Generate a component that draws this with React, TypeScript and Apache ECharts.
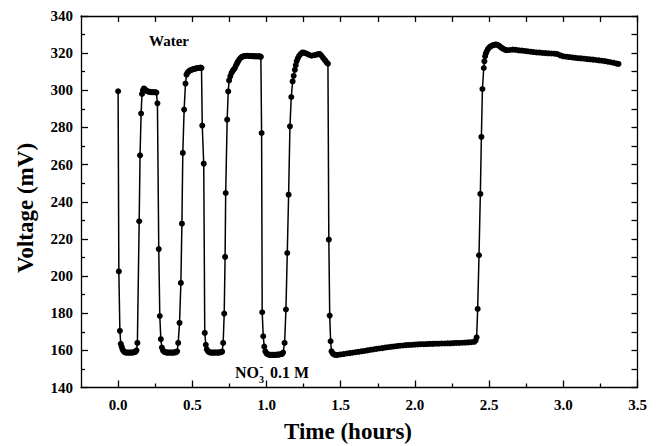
import { useEffect, useRef } from "react";
import * as echarts from "echarts";

const FONT = '"Liberation Serif", "Times New Roman", serif';

// Tick values
const xMajorTicks = [0, 0.5, 1, 1.5, 2, 2.5, 3, 3.5];
const xMinorTicks = [0.25, 0.75, 1.25, 1.75, 2.25, 2.75, 3.25];
const yTickLabels = [140, 160, 180, 200, 220, 240, 260, 280, 300, 320, 340];

// Data: [time (hours), voltage (mV)]
const cycle1 = [
  [0.0, 299.5], [0.005, 202.5], [0.012, 170.5], [0.018, 163.5], [0.024, 162.0], [0.03, 160.5],
  [0.037, 159.5], [0.045, 159.0], [0.053, 158.8], [0.061, 158.8], [0.069, 158.8], [0.077, 158.8],
  [0.085, 158.8], [0.093, 158.8], [0.101, 158.9], [0.109, 159.0], [0.117, 159.2], [0.124, 160.0],
  [0.13, 164.0], [0.142, 229.5], [0.148, 265.0], [0.155, 287.5], [0.161, 298.0], [0.167, 300.0],
  [0.174, 301.0], [0.181, 300.5], [0.188, 299.8], [0.196, 299.5], [0.205, 299.3], [0.214, 299.2],
  [0.223, 299.0], [0.232, 299.0], [0.241, 299.0], [0.25, 299.0], [0.258, 298.8], [0.265, 293.0],
  [0.274, 214.5], [0.281, 178.5], [0.288, 166.0], [0.295, 161.5], [0.303, 159.8], [0.311, 159.2],
  [0.319, 159.0], [0.327, 158.8], [0.335, 158.8], [0.343, 158.8], [0.351, 158.8], [0.359, 158.8],
  [0.367, 158.8], [0.375, 158.8], [0.383, 158.9], [0.391, 159.0], [0.398, 159.5],
];
const cycle2 = [
  [0.405, 164.0], [0.414, 174.8], [0.423, 196.3], [0.43, 228.2], [0.436, 266.3], [0.445, 289.6],
  [0.454, 303.6], [0.461, 308.4], [0.468, 309.5], [0.476, 310.2], [0.485, 310.7], [0.494, 311.0],
  [0.503, 311.3], [0.512, 311.5], [0.521, 311.7], [0.53, 311.9], [0.539, 312.0], [0.548, 312.1],
  [0.556, 312.2], [0.562, 312.0], [0.567, 281.0], [0.577, 260.5], [0.584, 169.4], [0.591, 163.0],
  [0.598, 160.5], [0.606, 159.5], [0.614, 159.0], [0.622, 158.8], [0.63, 158.8], [0.638, 158.8],
  [0.646, 158.8], [0.654, 158.8], [0.662, 158.8], [0.67, 158.8], [0.678, 158.8], [0.686, 158.9],
  [0.694, 159.0], [0.701, 159.3],
];
const cycle3 = [
  [0.708, 164.0], [0.715, 179.8], [0.721, 210.3], [0.725, 244.7], [0.735, 284.2], [0.742, 299.4],
  [0.748, 305.3], [0.756, 307.5], [0.764, 309.3], [0.772, 310.5], [0.78, 311.3], [0.787, 312.0],
  [0.795, 313.5], [0.802, 314.6], [0.809, 315.6], [0.817, 316.6], [0.825, 317.4], [0.832, 317.9],
  [0.84, 318.2], [0.849, 318.4], [0.858, 318.5], [0.866, 318.6], [0.875, 318.6], [0.884, 318.5],
  [0.893, 318.5], [0.902, 318.4], [0.911, 318.4], [0.92, 318.3], [0.929, 318.3], [0.938, 318.3],
  [0.947, 318.3], [0.955, 318.3], [0.962, 318.0], [0.967, 277.0], [0.971, 180.5], [0.978, 167.6],
  [0.985, 162.0], [0.992, 159.5], [1.0, 158.3], [1.008, 157.9], [1.016, 157.7], [1.024, 157.6],
  [1.032, 157.6], [1.04, 157.6], [1.048, 157.6], [1.056, 157.6], [1.064, 157.6], [1.072, 157.7],
  [1.08, 157.7], [1.088, 157.8], [1.096, 157.9], [1.104, 158.0], [1.112, 158.8],
];
const cycle4 = [
  [1.122, 164.0], [1.131, 182.0], [1.14, 212.4], [1.149, 243.8], [1.158, 280.6], [1.167, 296.4],
  [1.176, 304.8], [1.183, 307.8], [1.191, 311.0], [1.197, 313.5], [1.203, 315.6], [1.211, 317.2],
  [1.22, 318.6], [1.231, 319.6], [1.243, 320.4], [1.256, 320.2], [1.27, 319.7], [1.287, 319.1],
  [1.304, 318.6], [1.321, 318.9], [1.338, 319.2], [1.35, 319.5], [1.36, 319.5], [1.371, 318.6],
  [1.382, 317.4], [1.394, 316.2], [1.405, 315.0], [1.414, 314.3], [1.42, 219.6], [1.426, 178.7],
  [1.432, 164.9], [1.438, 159.5], [1.446, 158.3], [1.455, 157.8], [1.464, 157.6], [1.472, 157.5],
];
const longBaseline = [
  [1.48, 157.6], [1.5, 157.8], [1.52, 158.0], [1.54, 158.3], [1.56, 158.5], [1.58, 158.7],
  [1.6, 159.0], [1.62, 159.2], [1.64, 159.5], [1.66, 159.7], [1.68, 160.0], [1.7, 160.3],
  [1.72, 160.5], [1.74, 160.8], [1.76, 161.0], [1.78, 161.2], [1.8, 161.5], [1.82, 161.7],
  [1.84, 161.9], [1.86, 162.1], [1.88, 162.3], [1.9, 162.5], [1.92, 162.6], [1.94, 162.8],
  [1.96, 162.9], [1.98, 163.0], [2.0, 163.1], [2.02, 163.2], [2.04, 163.3], [2.06, 163.3],
  [2.08, 163.4], [2.1, 163.5], [2.12, 163.5], [2.14, 163.6], [2.16, 163.6], [2.18, 163.7],
  [2.2, 163.7], [2.22, 163.8], [2.24, 163.8], [2.26, 163.9], [2.28, 164.0], [2.3, 164.0],
  [2.32, 164.1], [2.34, 164.2], [2.36, 164.3], [2.38, 164.4], [2.4, 164.6], [2.409, 165.3],
];
const finalRise = [
  [2.416, 167.0], [2.423, 182.3], [2.432, 211.2], [2.441, 244.2], [2.448, 274.9], [2.455, 300.7],
  [2.464, 312.0], [2.468, 315.6], [2.473, 318.3], [2.478, 319.8], [2.484, 321.0], [2.492, 322.2],
  [2.5, 323.0], [2.51, 323.6], [2.52, 324.1], [2.53, 324.4], [2.54, 324.6], [2.55, 324.6],
  [2.56, 324.4], [2.57, 323.8], [2.58, 323.1], [2.59, 322.6], [2.6, 322.1], [2.61, 321.8],
  [2.62, 321.6], [2.64, 321.7], [2.66, 321.9], [2.68, 321.8], [2.7, 321.5], [2.72, 321.4],
  [2.74, 321.2], [2.76, 321.0], [2.78, 320.8], [2.8, 320.6], [2.82, 320.4], [2.84, 320.3],
  [2.86, 320.1], [2.88, 320.0], [2.9, 319.9], [2.92, 319.8], [2.94, 319.7], [2.96, 319.5],
  [2.98, 318.8], [3.0, 318.3], [3.02, 318.1], [3.04, 317.9], [3.06, 317.7], [3.08, 317.5],
  [3.1, 317.3], [3.12, 317.2], [3.14, 317.0], [3.16, 316.8], [3.18, 316.7], [3.2, 316.5],
  [3.22, 316.3], [3.24, 316.1], [3.26, 315.9], [3.28, 315.7], [3.3, 315.4], [3.32, 315.1],
  [3.34, 314.8], [3.36, 314.4], [3.372, 314.2],
];

const allData = [...cycle1, ...cycle2, ...cycle3, ...cycle4, ...longBaseline, ...finalRise];

const X_MIN = -0.25;
const X_MAX = 3.5;
const Y_MIN = 140;
const Y_MAX = 340;

const labelStyle = { fontFamily: FONT, fontWeight: "bold" as const, fontSize: 15, color: "#000" };
const lineStyle = { color: "#000", width: 1.3 };

function buildOption() {
  const hiddenLabel = { show: false };
  return {
    animation: false,
    backgroundColor: "#fff",
    grid: { left: 81, right: 22.5, top: 16, bottom: 58.5, outerBoundsMode: "none", containLabel: false },
    xAxis: [
      {
        type: "value", min: X_MIN, max: X_MAX, position: "bottom",
        axisLine: { show: true, onZero: false, lineStyle },
        axisTick: { show: true, inside: true, length: 7, customValues: xMajorTicks, lineStyle },
        axisLabel: {
          ...labelStyle, margin: 10, customValues: xMajorTicks,
          formatter: (v: number) => v.toFixed(1),
        },
        splitLine: { show: false },
      },
      {
        type: "value", min: X_MIN, max: X_MAX, position: "bottom",
        axisLine: { show: false, onZero: false },
        axisTick: { show: true, inside: true, length: 4, customValues: xMinorTicks, lineStyle },
        axisLabel: hiddenLabel,
        splitLine: { show: false },
      },
      {
        type: "value", min: X_MIN, max: X_MAX, position: "top",
        axisLine: { show: true, onZero: false, lineStyle },
        axisTick: { show: true, inside: true, length: 6, customValues: [...xMajorTicks, ...xMinorTicks], lineStyle },
        axisLabel: hiddenLabel,
        splitLine: { show: false },
      },
    ],
    yAxis: [
      {
        type: "value", min: Y_MIN, max: Y_MAX, interval: 20, position: "left",
        axisLine: { show: true, onZero: false, lineStyle },
        axisTick: { show: true, inside: true, length: 7, lineStyle },
        minorTick: { show: true, splitNumber: 2, length: 4, lineStyle },
        axisLabel: {
          ...labelStyle, margin: 8,
          formatter: (v: number) => (yTickLabels.includes(v) ? String(v) : ""),
        },
        splitLine: { show: false },
        minorSplitLine: { show: false },
      },
      {
        type: "value", min: Y_MIN, max: Y_MAX, interval: 20, position: "right",
        axisLine: { show: true, onZero: false, lineStyle },
        axisTick: { show: true, inside: true, length: 6, lineStyle },
        minorTick: { show: true, splitNumber: 2, length: 6, lineStyle },
        axisLabel: hiddenLabel,
        splitLine: { show: false },
        minorSplitLine: { show: false },
      },
    ],
    series: [
      {
        type: "line",
        xAxisIndex: 0,
        yAxisIndex: 0,
        data: allData,
        symbol: "circle",
        symbolSize: 6,
        showSymbol: true,
        showAllSymbol: true,
        lineStyle: { color: "#000", width: 1.5 },
        itemStyle: { color: "#000" },
        emphasis: { disabled: true },
      },
    ],
    graphic: [
      {
        type: "text", x: 348, y: 431,
        style: { text: "Time (hours)", font: `bold 23px ${FONT}`, fill: "#000", textAlign: "center", textVerticalAlign: "middle" },
      },
      {
        type: "text", x: 25.5, y: 208, rotation: Math.PI / 2,
        style: { text: "Voltage (mV)", font: `bold 23px ${FONT}`, fill: "#000", textAlign: "center", textVerticalAlign: "middle" },
      },
      {
        type: "text", x: 169, y: 41,
        style: { text: "Water", font: `bold 15px ${FONT}`, fill: "#000", textAlign: "center", textVerticalAlign: "middle" },
      },
      {
        type: "text", x: 235, y: 372,
        style: { text: "NO", font: `bold 16px ${FONT}`, fill: "#000", textAlign: "left", textVerticalAlign: "middle" },
      },
      {
        type: "text", x: 259, y: 379,
        style: { text: "3", font: `bold 10px ${FONT}`, fill: "#000", textAlign: "left", textVerticalAlign: "middle" },
      },
      {
        type: "text", x: 259.5, y: 366,
        style: { text: "-", font: `bold 11px ${FONT}`, fill: "#000", textAlign: "left", textVerticalAlign: "middle" },
      },
      {
        type: "text", x: 270, y: 372,
        style: { text: "0.1 M", font: `bold 16px ${FONT}`, fill: "#000", textAlign: "left", textVerticalAlign: "middle" },
      },
    ],
  };
}

export default function App() {
  const ref = useRef<HTMLDivElement>(null);
  useEffect(() => {
    if (!ref.current) return;
    const chart = echarts.init(ref.current, null, { renderer: "svg" });
    chart.setOption(buildOption() as any);
    return () => chart.dispose();
  }, []);
  return (
    <div
      ref={ref}
      style={{ position: "absolute", left: 0, top: 0, width: 660, height: 446, background: "#fff" }}
    />
  );
}
